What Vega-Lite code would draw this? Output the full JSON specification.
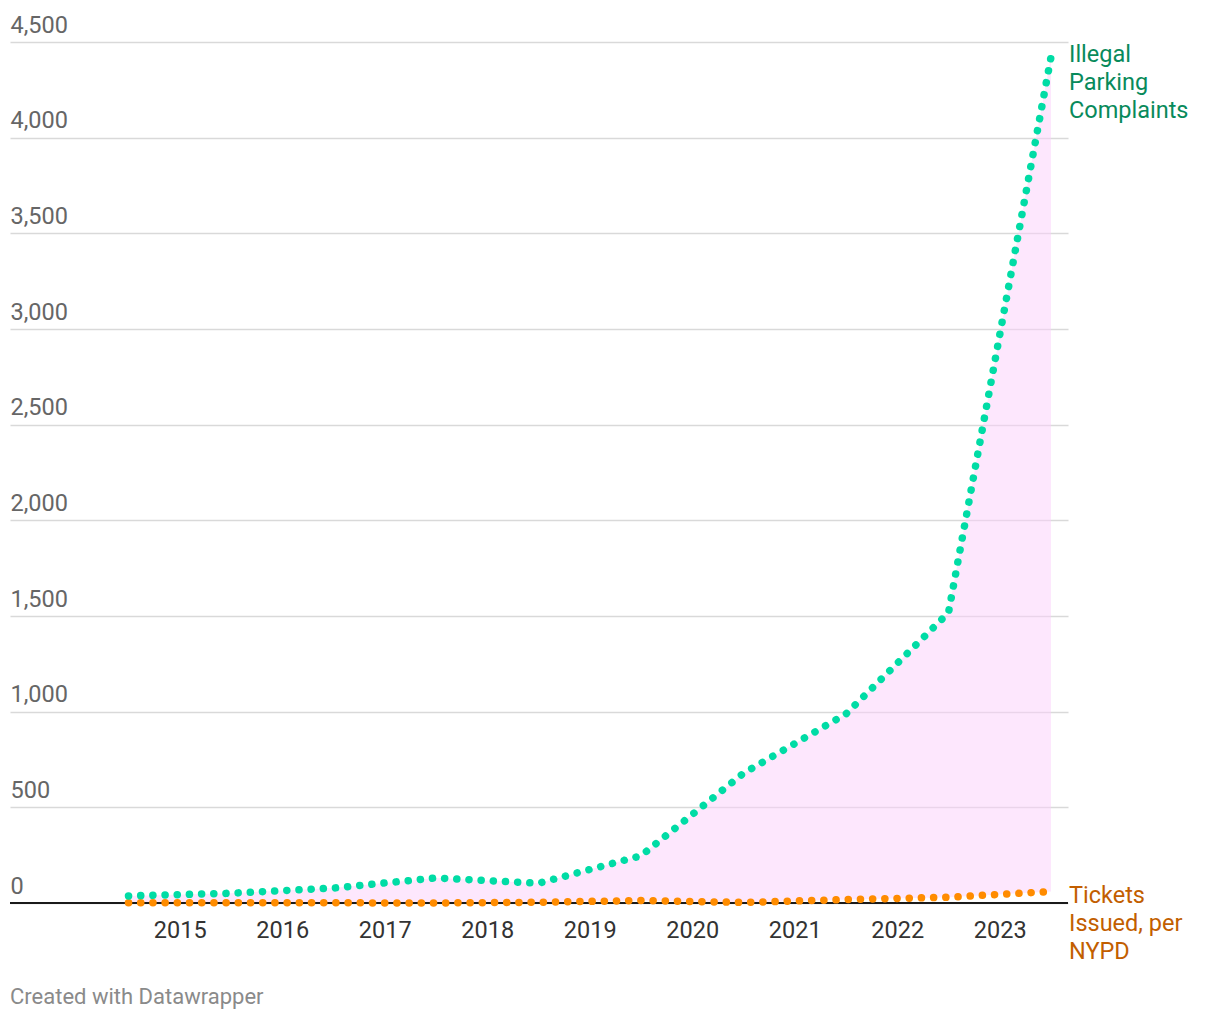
{
  "$schema": "https://vega.github.io/schema/vega-lite/v6.json",
  "width": 1058,
  "height": 861,
  "autosize": "none",
  "padding": {"left": 10, "top": 42, "right": 152, "bottom": 117},
  "background": "white",
  "config": {"view": {"stroke": null}, "font": "Roboto"},
  "title": {
    "text": "Created with Datawrapper",
    "orient": "bottom",
    "anchor": "start",
    "frame": "group",
    "fontSize": 22,
    "fontWeight": "normal",
    "font": "Roboto",
    "color": "#8a8a8a",
    "offset": 24
  },
  "datasets": {
    "series": [
      {"year": 2014.5, "complaints": 37, "tickets": 1},
      {"year": 2015.5, "complaints": 51, "tickets": 1},
      {"year": 2016.5, "complaints": 78, "tickets": 1},
      {"year": 2017.5, "complaints": 131, "tickets": 0},
      {"year": 2018.5, "complaints": 103, "tickets": 4},
      {"year": 2019.5, "complaints": 247, "tickets": 13},
      {"year": 2020.5, "complaints": 678, "tickets": 3},
      {"year": 2021.5, "complaints": 988, "tickets": 18},
      {"year": 2022.5, "complaints": 1517, "tickets": 30},
      {"year": 2023.5, "complaints": 4421, "tickets": 60}
    ],
    "labels": [
      {"year": 2023.5, "value": 4421, "series": "complaints", "label": "Illegal\nParking\nComplaints"},
      {"year": 2023.5, "value": 60, "series": "tickets", "label": "Tickets\nIssued, per\nNYPD"}
    ]
  },
  "layer": [
    {
      "data": {"name": "series"},
      "mark": {"type": "area", "color": "#fbcffb", "opacity": 0.5, "interpolate": "linear"},
      "encoding": {
        "x": {
          "field": "year",
          "type": "quantitative",
          "scale": {"domain": [2013.344, 2023.666], "nice": false, "zero": false},
          "axis": {
            "values": [2015, 2016, 2017, 2018, 2019, 2020, 2021, 2022, 2023],
            "format": "d",
            "title": null,
            "ticks": false,
            "domain": false,
            "grid": false,
            "labelFontSize": 23.5,
            "labelColor": "#333333",
            "labelFont": "Roboto",
            "labelBaseline": "alphabetic",
            "labelPadding": 34.5,
            "labelFlush": false,
            "labelOverlap": false,
            "labelBound": false
          }
        },
        "y": {
          "field": "complaints",
          "type": "quantitative",
          "scale": {"domain": [0, 4500], "nice": false, "zero": true},
          "axis": {
            "values": [0, 500, 1000, 1500, 2000, 2500, 3000, 3500, 4000, 4500],
            "format": ",d",
            "title": null,
            "ticks": false,
            "domain": false,
            "grid": true,
            "gridColor": "#d9d9d9",
            "gridWidth": 1.3,
            "labelFontSize": 23.5,
            "labelColor": "#666666",
            "labelFont": "Roboto",
            "labelAlign": "left",
            "labelBaseline": "alphabetic",
            "labelPadding": 0,
            "labelOffset": -10,
            "labelFlush": false,
            "labelOverlap": false,
            "labelBound": false
          }
        },
        "y2": {"field": "tickets"}
      }
    },
    {
      "data": {"values": [{"v": 0}]},
      "mark": {"type": "rule", "color": "#1a1a1a", "strokeWidth": 2},
      "encoding": {"y": {"field": "v", "type": "quantitative"}}
    },
    {
      "data": {"name": "series"},
      "mark": {"type": "line", "color": "#ff8c00", "strokeWidth": 7.5, "strokeCap": "round", "strokeDash": [0.1, 12.1], "interpolate": "linear"},
      "encoding": {
        "x": {"field": "year", "type": "quantitative"},
        "y": {"field": "tickets", "type": "quantitative"}
      }
    },
    {
      "data": {"name": "series"},
      "mark": {"type": "line", "color": "#00dca5", "strokeWidth": 7.5, "strokeCap": "round", "strokeDash": [0.1, 12.084], "interpolate": "linear"},
      "encoding": {
        "x": {"field": "year", "type": "quantitative"},
        "y": {"field": "complaints", "type": "quantitative"}
      }
    },
    {
      "data": {"name": "labels"},
      "transform": [{"filter": "datum.series === 'complaints'"}],
      "mark": {"type": "text", "align": "left", "baseline": "alphabetic", "dx": 18, "dy": 4.5, "fontSize": 23.5, "lineHeight": 28, "lineBreak": "\n", "color": "#088a5b", "font": "Roboto"},
      "encoding": {
        "x": {"field": "year", "type": "quantitative"},
        "y": {"field": "value", "type": "quantitative"},
        "text": {"field": "label"}
      }
    },
    {
      "data": {"name": "labels"},
      "transform": [{"filter": "datum.series === 'tickets'"}],
      "mark": {"type": "text", "align": "left", "baseline": "alphabetic", "dx": 18, "dy": 11, "fontSize": 23.5, "lineHeight": 28, "lineBreak": "\n", "color": "#c25e00", "font": "Roboto"},
      "encoding": {
        "x": {"field": "year", "type": "quantitative"},
        "y": {"field": "value", "type": "quantitative"},
        "text": {"field": "label"}
      }
    }
  ]
}
